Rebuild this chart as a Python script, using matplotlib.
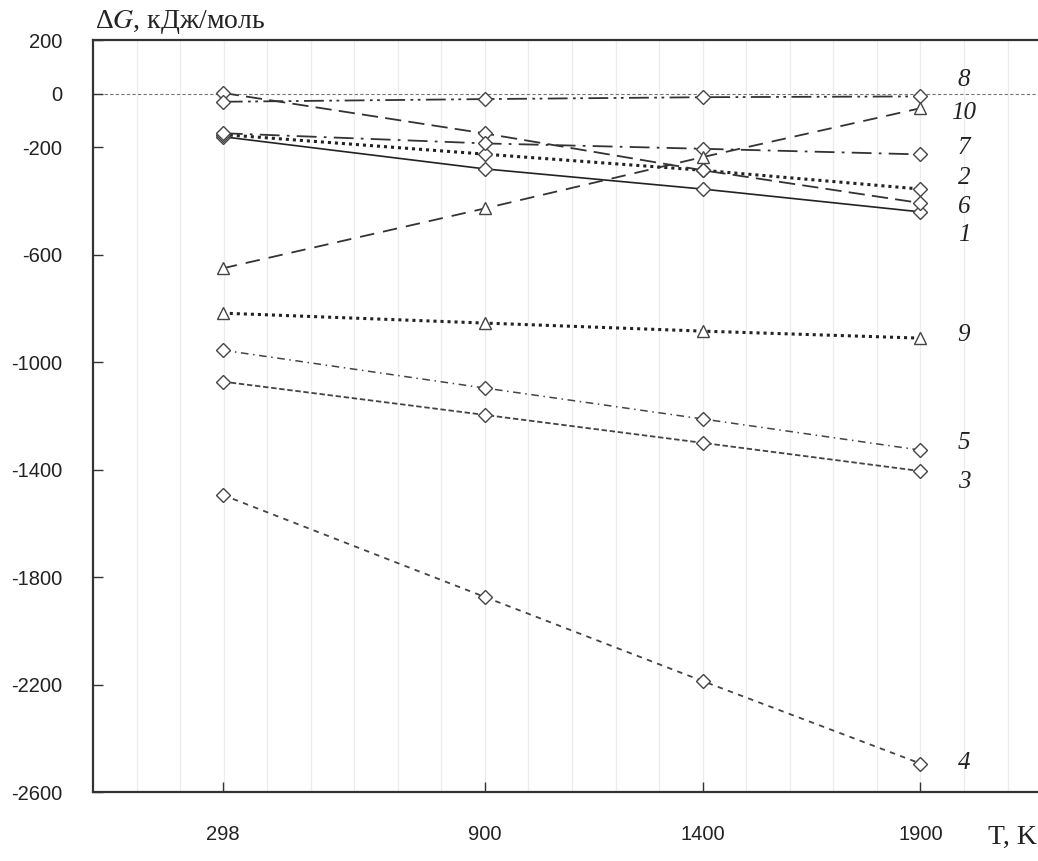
import matplotlib.pyplot as plt
import numpy as np

# temperatures, K
T = [298, 900, 1400, 1900]

# dG, kJ/mol
g1 = [-160, -280, -355, -440]
g2 = [-152, -225, -285, -355]
g3 = [-1072, -1196, -1300, -1405]
g4 = [-1494, -1874, -2187, -2494]
g5 = [-955, -1096, -1211, -1327]
g6 = [3, -148, -285, -407]
g7 = [-147, -185, -205, -226]
g8 = [-30, -20, -13, -10]
g9 = [-817, -854, -884, -910]
g10 = [-650, -427, -236, -54]

names = ['1', '2', '3', '4', '5', '6', '7', '8', '9', '10']
series = [g1, g2, g3, g4, g5, g6, g7, g8, g9, g10]

yticks = [200, 0, -200, -600, -1000, -1400, -1800, -2200, -2600]

# line styles / markers per curve
styles = [
    dict(ls='-', lw=1.2, color='#222222', marker='D'),
    dict(ls=(0, (1, 1.3)), lw=2.2, color='#222222', marker='D'),
    dict(ls=(0, (3, 1.5)), lw=1.3, color='#444444', marker='D'),
    dict(ls=(0, (3, 3)), lw=1.3, color='#444444', marker='D'),
    dict(ls=(0, (5, 3, 1, 3)), lw=1.1, color='#444444', marker='D'),
    dict(ls=(0, (9, 4)), lw=1.3, color='#333333', marker='D'),
    dict(ls=(0, (11, 4, 1.5, 4)), lw=1.3, color='#333333', marker='D'),
    dict(ls=(0, (11, 3, 1.5, 2.5, 1.5, 3)), lw=1.3, color='#333333', marker='D'),
    dict(ls=(0, (1, 1.3)), lw=2.2, color='#222222', marker='^'),
    dict(ls=(0, (8, 5)), lw=1.3, color='#333333', marker='^'),
]
# y position of the curve numbers at the right
label_y = [-527, -315, -1446, -2492, -1301, -422, -203, 51, -899, -72]

plt.rcParams['mathtext.fontset'] = 'stix'
plt.rcParams['axes.unicode_minus'] = False

fig = plt.figure(figsize=(10.38, 8.61), dpi=100)
ax = fig.add_axes([93 / 1038, 1 - 792 / 861, 1 - 93 / 1038, (792 - 40) / 861])

ax.set_xlim(0, 2170)
ax.set_ylim(-2600, 200)

# light vertical grid every 100 K
for xg in np.arange(100, 2170, 100):
    ax.axvline(xg, color='#ececec', lw=0.9, zorder=0)
ax.axhline(0, color='#777777', lw=0.8, ls=(0, (3, 2)), zorder=1)

for s, st in zip(series, styles):
    ax.plot(T, s, ls=st['ls'], lw=st['lw'], color=st['color'], marker=st['marker'],
            ms=7.5 if st['marker'] == 'D' else 9, mfc='white', mec='#444444',
            mew=1.0, zorder=3)

for n, yl in zip(names, label_y):
    ax.text(2000, yl, n, ha='center', va='center', family='Liberation Serif',
            style='italic', fontsize=18, color='#222222')

ax.set_xticks(T)
ax.set_xticklabels([str(t) for t in T])
ax.set_yticks(yticks)
ax.tick_params(direction='in', length=7, width=1, color='#333333',
               labelsize=14.5, labelcolor='#222222')
ax.tick_params(axis='x', pad=24)
ax.tick_params(axis='y', pad=22)
for lab in ax.get_xticklabels() + ax.get_yticklabels():
    lab.set_family(['Liberation Sans Narrow', 'Liberation Sans'])

for side in ['left', 'top', 'bottom']:
    ax.spines[side].set_color('#333333')
    ax.spines[side].set_linewidth(1.6)
ax.spines['right'].set_visible(False)

fig.text(95 / 1038, 1 - 22 / 861, 'Δ$G$, кДж/моль', family='Liberation Serif',
         fontsize=20, va='center', ha='left', color='#222222')
fig.text(1037 / 1038, 1 - 837 / 861, 'T, K', family='Liberation Serif',
         fontsize=20, va='center', ha='right', color='#222222')

fig.savefig('out.png', dpi=100)
